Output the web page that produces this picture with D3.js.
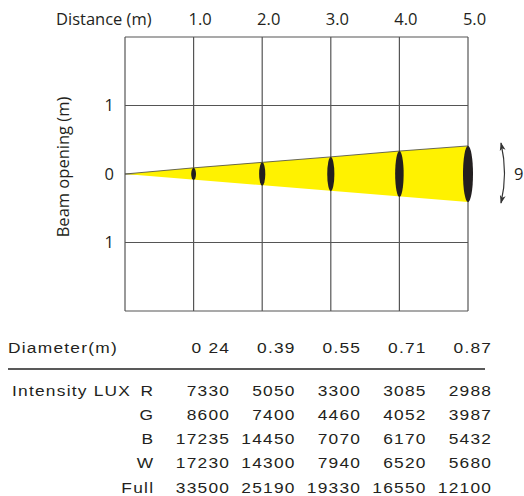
<!DOCTYPE html>
<html>
<head>
<meta charset="utf-8">
<script src="https://cdn.jsdelivr.net/npm/d3@7"></script>
<style>
  body { margin: 0; background: #fff; }
  svg { display: block; }
</style>
</head>
<body>
<div id="chart"></div>
<script>
// distances (m) along the beam
var distances = [1, 2, 3, 4, 5];
var distanceLabels = ["1.0", "2.0", "3.0", "4.0", "5.0"];
// half opening of the drawn beam at each distance (m)
var beamHalf = [0.09, 0.17, 0.25, 0.335, 0.41];
// ellipse half width in metres of distance axis
var ringHalf = [0.035, 0.045, 0.052, 0.062, 0.073];
var beamAngle = "9°";

var diameterLabels = ["0 24", "0.39", "0.55", "0.71", "0.87"];
var channels = ["R", "G", "B", "W", "Full"];
var luxR = [7330, 5050, 3300, 3085, 2988];
var luxG = [8600, 7400, 4460, 4052, 3987];
var luxB = [17235, 14450, 7070, 6170, 5432];
var luxW = [17230, 14300, 7940, 6520, 5680];
var luxFull = [33500, 25190, 19330, 16550, 12100];

var width = 524, height = 496;
var ink = "#231f20";

var svg = d3.select("#chart")
    .append("svg")
    .attr("width", width)
    .attr("height", height);

var x = d3.scaleLinear().domain([0, 5]).range([125, 468]);
var y = d3.scaleLinear().domain([2, -2]).range([37, 311]);

// grid
svg.append("g")
    .selectAll("line.v")
    .data(d3.range(0, 6))
    .enter()
    .append("line")
    .attr("x1", function (d) { return x(d); })
    .attr("x2", function (d) { return x(d); })
    .attr("y1", y(2))
    .attr("y2", y(-2))
    .attr("stroke", "#555")
    .attr("stroke-width", 1.2);

svg.append("g")
    .selectAll("line.h")
    .data(d3.range(-2, 3))
    .enter()
    .append("line")
    .attr("x1", x(0))
    .attr("x2", x(5))
    .attr("y1", function (d) { return y(d); })
    .attr("y2", function (d) { return y(d); })
    .attr("stroke", "#555")
    .attr("stroke-width", 1.2);

// beam cone
var conePts = [[0, 0]];
distances.forEach(function (d, i) { conePts.push([d, beamHalf[i]]); });
conePts.push([5, -beamHalf[4]]);
svg.append("path")
    .datum(conePts)
    .attr("d", d3.line()
        .x(function (d) { return x(d[0]); })
        .y(function (d) { return y(d[1]); }))
    .attr("fill", "#fff200")
    .attr("stroke", "#444")
    .attr("stroke-width", 0.8)
    .attr("stroke-linejoin", "round");

// cross-section rings
svg.append("g")
    .selectAll("ellipse")
    .data(distances)
    .enter()
    .append("ellipse")
    .attr("cx", function (d) { return x(d); })
    .attr("cy", y(0))
    .attr("rx", function (d, i) { return x(ringHalf[i]) - x(0); })
    .attr("ry", function (d, i) { return y(0) - y(beamHalf[i]); })
    .attr("fill", ink);

// top axis
var topAxis = svg.append("g")
    .attr("transform", "translate(6," + y(2) + ")")
    .call(d3.axisTop(x)
        .tickValues(distances)
        .tickFormat(function (d, i) { return distanceLabels[i]; })
        .tickSize(0)
        .tickPadding(12));
topAxis.select(".domain").remove();
topAxis.selectAll("text")
    .attr("font-family", "'Open Sans', sans-serif")
    .attr("font-size", "16.5px")
    .attr("fill", ink);

svg.append("text")
    .attr("x", 56)
    .attr("y", y(2) - 12)
    .attr("font-family", "'Open Sans', sans-serif")
    .attr("font-size", "16.5px")
    .attr("fill", ink)
    .text("Distance (m)");

// left axis
var leftAxis = svg.append("g")
    .attr("transform", "translate(" + x(0) + ",0)")
    .call(d3.axisLeft(y)
        .tickValues([1, 0, -1])
        .tickFormat(function (d) { return Math.abs(d); })
        .tickSize(0)
        .tickPadding(11));
leftAxis.select(".domain").remove();
leftAxis.selectAll("text")
    .attr("font-family", "'Open Sans', sans-serif")
    .attr("font-size", "16.5px")
    .attr("fill", ink);

svg.append("text")
    .attr("transform", "translate(69," + (y(0) - 7) + ") rotate(-90)")
    .attr("text-anchor", "middle")
    .attr("font-family", "'Open Sans', sans-serif")
    .attr("font-size", "16.5px")
    .attr("fill", ink)
    .text("Beam opening (m)");

// beam angle arrow
var defs = svg.append("defs");
defs.append("marker")
    .attr("id", "head")
    .attr("viewBox", "0 0 10 10")
    .attr("refX", 9)
    .attr("refY", 5)
    .attr("markerWidth", 7)
    .attr("markerHeight", 7)
    .attr("orient", "auto-start-reverse")
    .append("path")
    .attr("d", "M0,1.5 L10,5 L0,8.5 L2.5,5 Z")
    .attr("fill", "#333");

var ax = x(5) + 33;
svg.append("path")
    .attr("d", "M" + ax + "," + (y(0) - 31) + " Q" + (ax + 7) + "," + y(0) + " " + ax + "," + (y(0) + 29))
    .attr("fill", "none")
    .attr("stroke", "#333")
    .attr("stroke-width", 1.2)
    .attr("marker-start", "url(#head)")
    .attr("marker-end", "url(#head)");

svg.append("text")
    .attr("x", ax + 13)
    .attr("y", y(0) + 6)
    .attr("font-family", "'Open Sans', sans-serif")
    .attr("font-size", "16.5px")
    .attr("fill", ink)
    .text(beamAngle);

// table
var col = d3.scaleLinear().domain([0, 4]).range([229, 491]);
var row = d3.scaleLinear().domain([0, 4]).range([390, 487]);
var tableFont = "'Liberation Sans', Arial, sans-serif";
var sx = 1.12, ls = 1.1;

function cell(xp, yp, txt, anchor) {
    var shift = anchor === "end" ? ls * sx : 0;
    svg.append("text")
        .attr("transform", "translate(" + (xp + shift) + "," + (yp + 5.5) + ") scale(" + sx + ",1)")
        .attr("text-anchor", anchor)
        .attr("font-family", tableFont)
        .attr("font-size", "15.5px")
        .attr("letter-spacing", ls + "px")
        .attr("fill", ink)
        .text(txt);
}

cell(8, 347, "Diameter(m)", "start");
diameterLabels.forEach(function (d, i) { cell(col(i), 347, d, "end"); });

svg.append("line")
    .attr("x1", 8)
    .attr("x2", 485)
    .attr("y1", 369)
    .attr("y2", 369)
    .attr("stroke", "#222")
    .attr("stroke-width", 1.5);

cell(12, row(0), "Intensity LUX", "start");
var luxRows = [luxR, luxG, luxB, luxW, luxFull];
channels.forEach(function (c, r) {
    cell(153, row(r), c, "end");
    luxRows[r].forEach(function (v, i) { cell(col(i), row(r), String(v), "end"); });
});
</script>
</body>
</html>
